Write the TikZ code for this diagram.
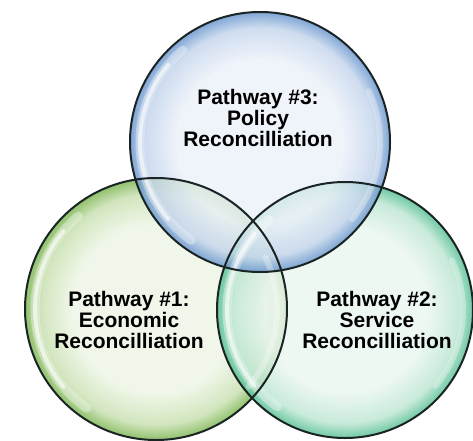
\documentclass[tikz,border=0pt]{standalone}
\usepackage{fontspec}
\setmainfont{Liberation Sans}
\usepackage{tikz}
\definecolor{blueIn}{HTML}{EBF0F9}
\definecolor{blueMid}{HTML}{C4D5EC}
\definecolor{blueRim}{HTML}{6593CC}
\definecolor{greenIn}{HTML}{EDF5E5}
\definecolor{greenMid}{HTML}{C8E0B0}
\definecolor{greenRim}{HTML}{78B34C}
\definecolor{tealIn}{HTML}{EAF6F0}
\definecolor{tealMid}{HTML}{BDE6D3}
\definecolor{tealRim}{HTML}{50BD90}
\definecolor{rimgray}{HTML}{1A2424}
\pgfdeclareradialshading{bubbleblue}{\pgfpoint{0bp}{0bp}}{color(0bp)=(blueIn); color(16bp)=(blueIn); color(22bp)=(blueMid); color(25bp)=(blueRim); color(50bp)=(blueRim)}
\pgfdeclareradialshading{bubblegreen}{\pgfpoint{0bp}{0bp}}{color(0bp)=(greenIn); color(16bp)=(greenIn); color(22bp)=(greenMid); color(25bp)=(greenRim); color(50bp)=(greenRim)}
\pgfdeclareradialshading{bubbleteal}{\pgfpoint{0bp}{0bp}}{color(0bp)=(tealIn); color(16bp)=(tealIn); color(22bp)=(tealMid); color(25bp)=(tealRim); color(50bp)=(tealRim)}

\begin{document}
\begin{tikzpicture}[x=1pt,y=1pt]
\tikzstyle{bubble}=[fill opacity=0.82]
\tikzstyle{rim}=[draw=rimgray,line width=2pt]
\tikzstyle{gloss}=[white,line cap=round]
\tikzstyle{pathtext}=[align=center,font=\fontsize{21}{21}\selectfont\bfseries,text=black]
\useasboundingbox (0,0) rectangle (473,440);
\coordinate (P3) at (260,298);
\coordinate (P1) at (156,131);
\coordinate (P2) at (345,130);
\shade[bubble,shading=bubblegreen] (P1) circle[radius=131pt];
\shade[bubble,shading=bubbleteal] (P2) circle[radius=128pt];
\shade[bubble,shading=bubbleblue] (P3) circle[radius=130pt];
\foreach \c/\r in {P1/121,P2/118,P3/120} {
  \draw[gloss,opacity=0.35,line width=9pt] ([shift={(130:\r pt)}]\c) arc[start angle=130,end angle=235,radius=\r pt];
  \draw[gloss,opacity=0.6,line width=4pt] ([shift={(140:\r pt)}]\c) arc[start angle=140,end angle=220,radius=\r pt];
  \draw[gloss,opacity=0.3,line width=6pt] ([shift={(-40:\r pt)}]\c) arc[start angle=-40,end angle=25,radius=\r pt];
}
\draw[rim] (P1) circle[radius=131pt];
\draw[rim] (P2) circle[radius=128pt];
\draw[rim] (P3) circle[radius=130pt];
\node[pathtext] (T3) at (258,322) {Pathway \#3:\\Policy\\Reconcilliation};
\node[pathtext] (T1) at (129,120) {Pathway \#1:\\Economic\\Reconcilliation};
\node[pathtext] (T2) at (377,120) {Pathway \#2:\\Service\\Reconcilliation};
\end{tikzpicture}
\end{document}
